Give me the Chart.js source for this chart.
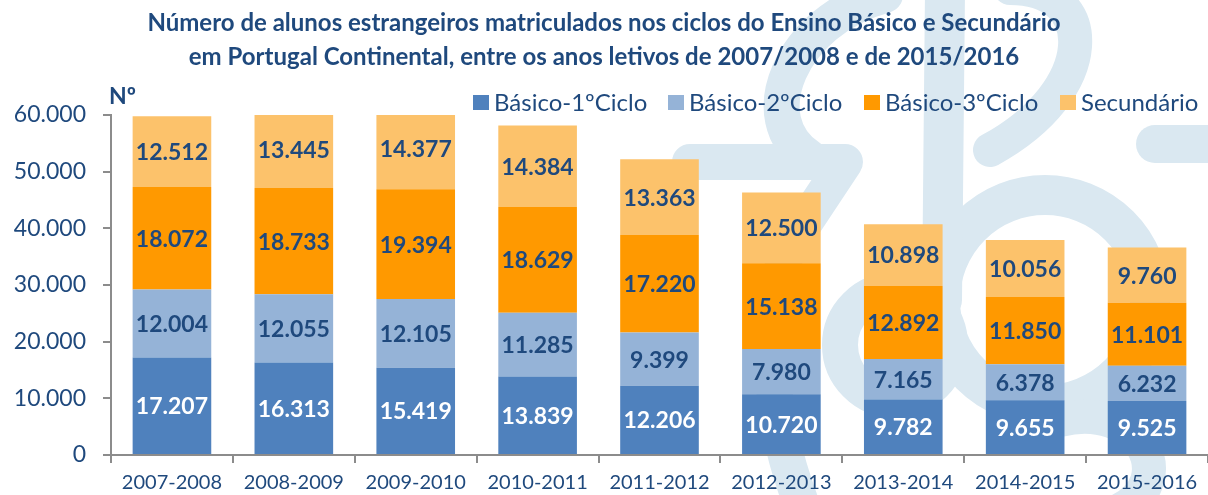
<!DOCTYPE html>
<html>
<head>
<meta charset="utf-8">
<script src="https://cdn.jsdelivr.net/npm/chart.js@4.4.1/dist/chart.umd.min.js"></script>
<style>
html,body{margin:0;padding:0;background:#fff;}
#wrap{width:1208px;height:495px;position:relative;}
</style>
</head>
<body>
<div id="wrap"><canvas id="c" width="1208" height="495"></canvas></div>
<script>
const categories = ['2007-2008','2008-2009','2009-2010','2010-2011','2011-2012','2012-2013','2013-2014','2014-2015','2015-2016'];
const basico1 = [17207,16313,15419,13839,12206,10720,9782,9655,9525];
const basico2 = [12004,12055,12105,11285,9399,7980,7165,6378,6232];
const basico3 = [18072,18733,19394,18629,17220,15138,12892,11850,11101];
const secundario = [12512,13445,14377,14384,13363,12500,10898,10056,9760];
const seriesNames = ['Básico-1ºCiclo','Básico-2ºCiclo','Básico-3ºCiclo','Secundário'];
const titleLines = ['Número de alunos estrangeiros matriculados nos ciclos do Ensino Básico e Secundário','em Portugal Continental, entre os anos letivos de 2007/2008 e de 2015/2016'];
const yTicks = [0,10000,20000,30000,40000,50000,60000];

const FONT = 'Lato, "Open Sans", sans-serif';
const DARK = '#1F497D';
const colors = ['#4F81BD','#95B3D7','#FF9900','#FCC26B'];
const labelColors = ['#FFFFFF',DARK,DARK,DARK];

function fmt(v){ return String(v).replace(/\B(?=(\d{3})+(?!\d))/g,'.'); }

// faint background logo (decoration only)
const watermark = {
  id:'watermark',
  beforeDraw(chart){
    const ctx = chart.ctx;
    ctx.save();
    ctx.strokeStyle = '#DAE8F1';
    ctx.lineCap = 'round';
    ctx.lineJoin = 'round';
    ctx.lineWidth = 36;
    // upper left curve
    ctx.beginPath();
    ctx.moveTo(885,-5);
    ctx.bezierCurveTo(790,20,750,120,810,158);
    ctx.stroke();
    // "7"-like stroke
    ctx.beginPath();
    ctx.moveTo(690,162); ctx.lineTo(845,162); ctx.lineTo(790,245);
    ctx.bezierCurveTo(760,320,770,420,800,500);
    ctx.stroke();
    // small bowl
    ctx.beginPath();
    ctx.arc(895,345,55,0,Math.PI*2);
    ctx.stroke();
    // big ring with stem
    ctx.lineWidth = 40;
    ctx.beginPath();
    ctx.arc(1045,300,105,0,Math.PI*2);
    ctx.stroke();
    ctx.beginPath();
    ctx.moveTo(945,-10); ctx.lineTo(942,300);
    ctx.stroke();
    // top right hook
    ctx.lineWidth = 34;
    ctx.beginPath();
    ctx.moveTo(1010,-12);
    ctx.bezierCurveTo(1100,-12,1100,90,990,150);
    ctx.stroke();
    // lower right curve
    ctx.beginPath();
    ctx.moveTo(1060,420);
    ctx.bezierCurveTo(1140,400,1180,480,1120,510);
    ctx.stroke();
    // pill
    ctx.lineWidth = 38;
    ctx.beginPath();
    ctx.moveTo(1155,144); ctx.lineTo(1230,144);
    ctx.stroke();
    ctx.restore();
  }
};

const decor = {
  id:'decor',
  afterDraw(chart){
    const ctx = chart.ctx;
    ctx.save();
    ctx.fillStyle = DARK;
    ctx.font = 'bold 24px ' + FONT;
    ctx.textAlign = 'center';
    ctx.textBaseline = 'middle';
    ctx.fillText(titleLines[0], 604, 23);
    ctx.fillText(titleLines[1], 604, 57);
    ctx.font = 'bold 23px ' + FONT;
    ctx.textAlign = 'left';
    ctx.fillText('Nº', 109, 97);
    ctx.font = '24px ' + FONT;
    const xs = [473, 668, 864, 1060];
    for (let i=0;i<4;i++){
      ctx.fillStyle = colors[i];
      ctx.fillRect(xs[i], 95, 16, 15);
      ctx.fillStyle = DARK;
      ctx.fillText(seriesNames[i], xs[i]+21, 103);
    }
    ctx.font = 'bold 23px ' + FONT;
    ctx.textAlign = 'center';
    chart.data.datasets.forEach((ds, di) => {
      const meta = chart.getDatasetMeta(di);
      meta.data.forEach((bar, i) => {
        const p = bar.getProps(['x','y','base'], true);
        ctx.fillStyle = labelColors[di];
        ctx.fillText(fmt(ds.data[i]), p.x, (p.y + p.base)/2 + 1);
      });
    });
    ctx.restore();
  }
};

new Chart(document.getElementById('c'), {
  type:'bar',
  data:{
    labels: categories,
    datasets:[basico1,basico2,basico3,secundario].map((d,i)=>({
      label: seriesNames[i], data: d, backgroundColor: colors[i],
      categoryPercentage: 1, barPercentage: 0.645, borderWidth: 0
    }))
  },
  options:{
    responsive:false, animation:false,
    layout:{padding:{top:115,right:0,left:0,bottom:0}},
    plugins:{legend:{display:false}, title:{display:false}, tooltip:{enabled:false}},
    scales:{
      x:{
        stacked:true, offset:true,
        grid:{drawOnChartArea:false, drawTicks:true, tickLength:8, offset:true, color:'#8C8C8C', lineWidth:2},
        border:{color:'#8C8C8C', width:2},
        ticks:{color:DARK, font:{family:FONT, size:20}, padding:8, maxRotation:0, autoSkip:false},
        afterFit(s){ s.height = 40; }
      },
      y:{
        stacked:true, min:0, max:60000,
        afterBuildTicks(s){ s.ticks = yTicks.map(v=>({value:v})); },
        grid:{drawOnChartArea:false, drawTicks:true, tickLength:8, color:'#8C8C8C', lineWidth:2},
        border:{color:'#8C8C8C', width:2},
        ticks:{color:DARK, font:{family:FONT, size:23}, padding:17, callback:v=>fmt(v)},
        afterFit(s){ s.width = 111; }
      }
    }
  },
  plugins:[watermark, decor]
});
</script>
</body>
</html>
